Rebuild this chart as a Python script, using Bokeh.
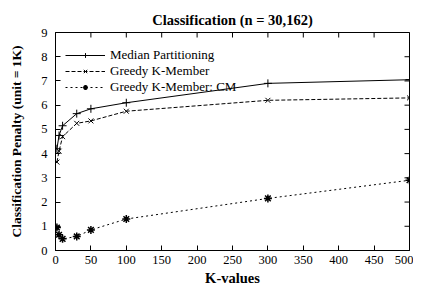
import math
from bokeh.plotting import figure
from bokeh.models import (FixedTicker, Range1d, Legend, LegendItem, Title)
from bokeh.embed import file_html
from bokeh.resources import INLINE

# Data
k_values = [2, 5, 10, 30, 50, 100, 300, 500]
median_partitioning = [4.2, 4.75, 5.15, 5.65, 5.85, 6.1, 6.9, 7.05]
greedy_k_member = [3.65, 4.1, 4.7, 5.25, 5.35, 5.75, 6.2, 6.3]
greedy_k_member_cm = [0.95, 0.65, 0.48, 0.58, 0.85, 1.3, 2.15, 2.9]

x_ticks = [0, 50, 100, 150, 200, 250, 300, 350, 400, 450, 500]
y_ticks = [0, 1, 2, 3, 4, 5, 6, 7, 8, 9]
title_text = "Classification (n = 30,162)"

FONT = "Liberation Serif"
X_MAX = 500
Y_MAX = 9

p = figure(width=413, height=288, output_backend="svg", toolbar_location=None,
           x_range=Range1d(0, X_MAX), y_range=Range1d(0, Y_MAX),
           min_border_left=55, min_border_right=4, min_border_top=32, min_border_bottom=37,
           x_axis_label="K-values", y_axis_label="Classification Penalty (unit = 1K)")
p.title = Title(text=title_text, align="center",
                text_font=FONT, text_font_size="14.5px", text_font_style="bold",
                text_color="black", standoff=10)
p.grid.visible = False
p.outline_line_color = "black"
p.outline_line_width = 1
p.background_fill_color = "white"
p.border_fill_color = "white"

for ax in (p.xaxis[0], p.yaxis[0]):
    ax.major_tick_in = 5
    ax.major_tick_out = 0
    ax.minor_tick_line_color = None
    ax.axis_line_color = "black"
    ax.major_tick_line_color = "black"
    ax.major_label_text_font = FONT
    ax.major_label_text_font_size = "12.5px"
    ax.major_label_text_color = "black"
    ax.axis_label_text_font = FONT
    ax.axis_label_text_font_style = "bold"
    ax.axis_label_text_color = "black"
p.xaxis.ticker = FixedTicker(ticks=x_ticks)
p.yaxis.ticker = FixedTicker(ticks=y_ticks)
p.xaxis.axis_label_text_font_size = "14.5px"
p.yaxis.axis_label_text_font_size = "13.5px"
p.xaxis.major_label_standoff = 5
p.xaxis.axis_label_standoff = 3
p.yaxis.major_label_standoff = 8
p.yaxis.axis_label_standoff = 14

# mirrored inward ticks on the top and right frame edges
p.scatter(x_ticks, [Y_MAX] * len(x_ticks), marker="dash", angle=math.pi / 2,
          size=10, line_color="black", line_width=1)
p.scatter([X_MAX] * len(y_ticks), y_ticks, marker="dash",
          size=10, line_color="black", line_width=1)

l1 = p.line(k_values, median_partitioning, line_color="black", line_width=1)
m1 = p.scatter(k_values, median_partitioning, marker="cross", size=8, line_color="black", line_width=1)
l2 = p.line(k_values, greedy_k_member, line_color="black", line_width=1, line_dash="4 2")
m2 = p.scatter(k_values, greedy_k_member, marker="x", size=7, line_color="black", line_width=1)
l3 = p.line(k_values, greedy_k_member_cm, line_color="black", line_width=1, line_dash="2 3")
m3 = p.scatter(k_values, greedy_k_member_cm, marker="asterisk", size=8, line_color="black", line_width=1.5)

legend = Legend(items=[
    LegendItem(label="Median Partitioning", renderers=[l1, m1]),
    LegendItem(label="Greedy K-Member", renderers=[l2, m2]),
    LegendItem(label="Greedy K-Member: CM", renderers=[l3, m3]),
], location=(10, 155))
legend.background_fill_alpha = 0
legend.border_line_color = None
legend.label_text_font = FONT
legend.label_text_font_size = "13px"
legend.label_text_color = "black"
legend.label_text_line_height = 0.8
legend.glyph_width = 40
legend.glyph_height = 12
legend.label_height = 12
legend.spacing = 0
legend.padding = 2
legend.margin = 0
p.add_layout(legend)

open("out.html", "w").write(file_html(p, INLINE))
